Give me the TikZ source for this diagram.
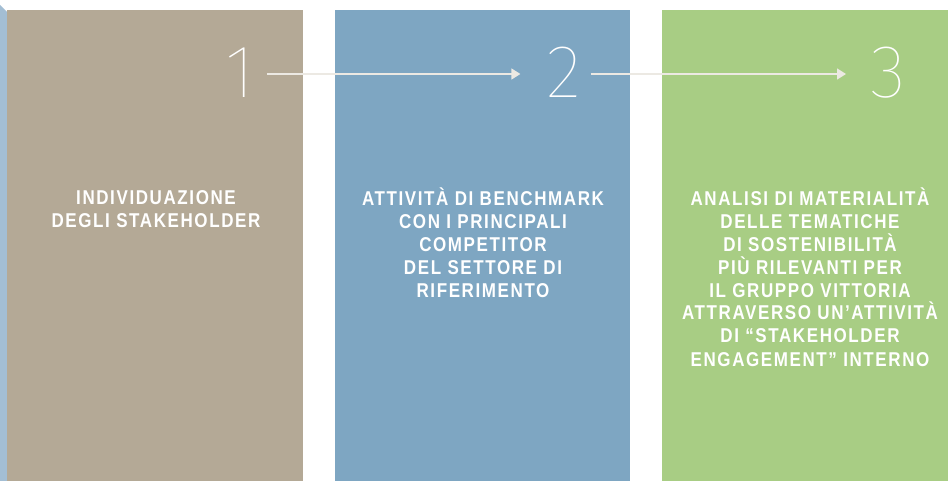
\documentclass[tikz,border=0pt]{standalone}
\usepackage{fontspec}
\setmainfont{Liberation Sans}
\newfontfamily\condfont{Liberation Sans}[FakeStretch=0.85,LetterSpace=8]
\newfontfamily\thinfont{Fira Sans}[UprightFont=* Thin]
\usetikzlibrary{arrows.meta}
\definecolor{tanc}{HTML}{B4A996}
\definecolor{bluec}{HTML}{7EA6C2}
\definecolor{greenc}{HTML}{A8CD84}
\definecolor{stripc}{HTML}{A3BED4}
\definecolor{linec}{HTML}{ECE9E3}
\tikzset{
  panel/.style={fill=#1, draw=none},
  numlabel/.style={text=white, font=\thinfont\fontsize{75}{75}\selectfont, inner sep=0pt, anchor=base},
  desc/.style={text=white, font=\condfont\bfseries\fontsize{20}{23}\selectfont, align=center, anchor=base, inner sep=0pt},
  flow/.style={draw=linec, line width=1.3pt, -{Triangle[length=9pt,width=11pt]}}
}
\begin{document}
\begin{tikzpicture}[x=1pt,y=-1pt]
\useasboundingbox (0,0) rectangle (948,481);
\fill[stripc] (0,5) -- (7,12) -- (7,481) -- (0,481) -- cycle;
\fill[panel=tanc] (7,10) rectangle (303,481);
\fill[panel=bluec] (335,10) rectangle (630,481);
\fill[panel=greenc] (662,10) rectangle (948,481);
\node[numlabel] (n1) at (240,98) {1};
\node[numlabel] (n2) at (564,98) {2};
\node[numlabel] (n3) at (888,98) {3};
\draw[flow] ([xshift=12pt,yshift=24pt]n1.base east) -- ([xshift=-26pt,yshift=24pt]n2.base west);
\draw[flow] ([xshift=9pt,yshift=24pt]n2.base east) -- ([xshift=-24pt,yshift=24pt]n3.base west);
% base anchor = baseline of the last line; first baseline at y=205, line pitch 23
\node[desc] (t1) at (156,228) {INDIVIDUAZIONE\\DEGLI STAKEHOLDER};
\node[desc] (t2) at (483,297) {ATTIVITÀ DI BENCHMARK\\CON I PRINCIPALI\\COMPETITOR\\DEL SETTORE DI\\RIFERIMENTO};
\node[desc] (t3) at (810,366) {ANALISI DI MATERIALITÀ\\DELLE TEMATICHE\\DI SOSTENIBILITÀ\\PIÙ RILEVANTI PER\\IL GRUPPO VITTORIA\\ATTRAVERSO UN’ATTIVITÀ\\DI “STAKEHOLDER\\ENGAGEMENT” INTERNO};
\end{tikzpicture}
\end{document}
